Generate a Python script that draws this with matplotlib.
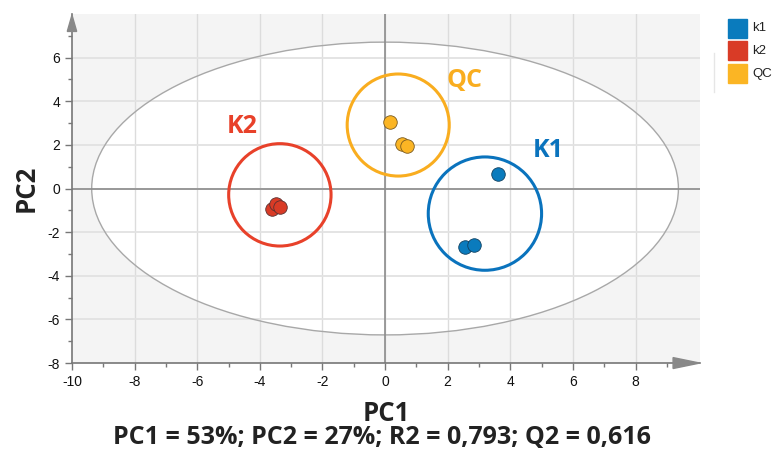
import numpy as np
import matplotlib.pyplot as plt
from matplotlib.patches import Ellipse, Polygon

plt.rcParams['axes.unicode_minus'] = False

# scores
groups = ['k1', 'k2', 'QC']
colors = ['#0a7bbd', '#d93b26', '#fbb524']
ring_colors = ['#0a73bd', '#e8412a', '#f9ad1f']
edge_colors = ['#104060', '#5a3030', '#7a5a20']
pc1 = {'k1': [3.61, 2.56, 2.85], 'k2': [-3.60, -3.47, -3.34], 'QC': [0.16, 0.54, 0.69]}
pc2 = {'k1': [0.66, -2.68, -2.57], 'k2': [-0.92, -0.69, -0.84], 'QC': [3.03, 2.03, 1.94]}
# group circles (center x, center y, radius in x units)
ring_cx = [3.19, -3.36, 0.42]
ring_cy = [-1.15, -0.29, 2.91]
ring_r = [1.81, 1.635, 1.63]
ring_labels = ['K1', 'K2', 'QC']
label_xy = [(5.2, 1.76), (-4.55, 2.82), (2.53, 4.97)]
# Hotelling T2 ellipse semi axes
ell_a, ell_b = 9.37, 6.71

fig = plt.figure(figsize=(7.74, 4.51), dpi=100)
ax = fig.add_axes([0.093, 0.195, 0.811, 0.774])
ax.set_xlim(-10, 10.05)
ax.set_ylim(-8, 8)
ax.set_facecolor('#f4f4f4')

# ratio so the rings look round
bbox = ax.get_window_extent()
ratio = (20.05 / bbox.width) / (16 / bbox.height)

ax.add_patch(Ellipse((0, 0), 2 * ell_a, 2 * ell_b, facecolor='white', edgecolor='none', zorder=0.5))
for v in range(-8, 9, 2):
    ax.axvline(v, color='#dcdcdc', lw=1, zorder=1)
for v in range(-6, 8, 2):
    ax.axhline(v, color='#e2e2e2', lw=1.3, zorder=1)
ax.add_patch(Ellipse((0, 0), 2 * ell_a, 2 * ell_b, facecolor='none', edgecolor='#a8a8a8', lw=1, zorder=1.5))
ax.axvline(0, color='#8c8c8c', lw=1.2, zorder=1.6)
ax.axhline(0, color='#8c8c8c', lw=1.2, zorder=1.6)

for i, g in enumerate(groups):
    r = ring_r[i]
    ax.add_patch(Ellipse((ring_cx[i], ring_cy[i]), 2 * r, 2 * r / ratio, facecolor='none',
                         edgecolor=ring_colors[i], lw=2.2, zorder=2))
    ax.scatter(pc1[g], pc2[g], s=95, color=colors[i], edgecolors=edge_colors[i],
               linewidths=0.6, zorder=3)
    ax.text(label_xy[i][0], label_xy[i][1], ring_labels[i], color=ring_colors[i], fontsize=18,
            fontweight='bold', family='Open Sans', ha='center', va='center', zorder=4)

for s in ['top', 'right']:
    ax.spines[s].set_visible(False)
for s in ['left', 'bottom']:
    ax.spines[s].set_color('#777777')
    ax.spines[s].set_linewidth(1.2)

# arrow heads
ax.add_patch(Polygon([(-10.15, 7.2), (-9.85, 7.2), (-10, 7.95)], closed=True, color='#888888',
                     clip_on=False, zorder=5))
ax.add_patch(Polygon([(9.2, -7.75), (9.2, -8.25), (10.05, -8)], closed=True, color='#888888',
                     clip_on=False, zorder=5))

ax.set_xticks(range(-10, 9, 2))
ax.set_yticks(range(-8, 7, 2))
ax.set_xticks(range(-9, 10, 1), minor=True)
ax.set_yticks(range(-7, 8, 1), minor=True)
ax.tick_params(which='major', length=5, color='#777777', labelsize=10, labelcolor='#111111', width=1)
ax.tick_params(which='minor', length=3, color='#777777', width=1)
for lab in ax.get_xticklabels() + ax.get_yticklabels():
    lab.set_family('Liberation Sans')

ax.set_xlabel('PC1', fontsize=18.5, fontweight='bold', family='Open Sans', color='#222222', labelpad=8)
ax.set_ylabel('PC2', fontsize=18.5, fontweight='bold', family='Open Sans', color='#222222', labelpad=6)
fig.text(0.4935, 0.031, 'PC1 = 53%; PC2 = 27%; R2 = 0,793; Q2 = 0,616', fontsize=18, fontweight='bold',
         family='Open Sans', color='#222222', ha='center', va='center')

# legend boxes
leg_y = [0.937, 0.887, 0.837]
for i, g in enumerate(groups):
    fig.patches.append(plt.Rectangle((0.9405, leg_y[i] - 0.021), 0.0245, 0.042, color=colors[i],
                                     transform=fig.transFigure, figure=fig))
    fig.text(0.9715, leg_y[i], g, fontsize=9.5, family='Liberation Sans', color='#222222', va='center')
fig.add_artist(plt.Line2D([0.9225, 0.9225], [0.796, 0.882], color='#e6e6e6', lw=1, transform=fig.transFigure))

plt.savefig('out.png', dpi=100)
